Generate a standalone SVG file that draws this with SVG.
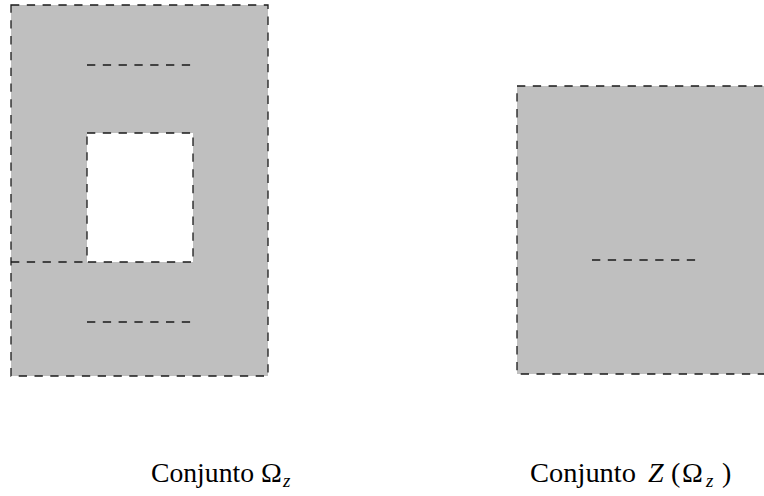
<svg xmlns="http://www.w3.org/2000/svg" width="764" height="496" viewBox="0 0 764 496">
<style>
.d{stroke:#1a1a1a;stroke-width:1.3;stroke-dasharray:8.3 7.5;fill:none}
.g{fill:#bfbfbf}
.t{font-family:"Liberation Serif","Times New Roman",serif;font-size:28px;fill:#000}
.i{font-style:italic}
.s{font-size:19px}
</style>
<g id="omega">
<rect class="g" x="11" y="5" width="257" height="371"/>
<rect x="87" y="133" width="106" height="129" fill="#fff"/>
<rect class="d" x="11" y="5" width="257" height="371"/>
<rect class="d" x="87" y="133" width="106" height="129"/>
<line class="d" x1="11" y1="262" x2="87" y2="262"/>
<line class="d" x1="87" y1="65" x2="191" y2="65"/>
<line class="d" x1="87" y1="322" x2="191" y2="322"/>
</g>
<g id="z-omega">
<rect class="g" x="517" y="86" width="257" height="288"/>
<rect class="d" x="517" y="86" width="257" height="288"/>
<line class="d" x1="592" y1="260" x2="697" y2="260"/>
</g>
<g id="label-omega">
<text class="t" x="151" y="482" textLength="103" lengthAdjust="spacingAndGlyphs">Conjunto</text>
<text class="t" x="261" y="482">Ω</text>
<text class="t i s" x="283" y="487">z</text>
</g>
<g id="label-z-omega">
<text class="t" x="530" y="482" textLength="106" lengthAdjust="spacingAndGlyphs">Conjunto</text>
<text class="t i" x="648" y="482">Z</text>
<text class="t" x="671" y="482">(</text>
<text class="t" x="682" y="482">Ω</text>
<text class="t i s" x="706" y="487">z</text>
<text class="t" x="722" y="482">)</text>
</g>
</svg>
